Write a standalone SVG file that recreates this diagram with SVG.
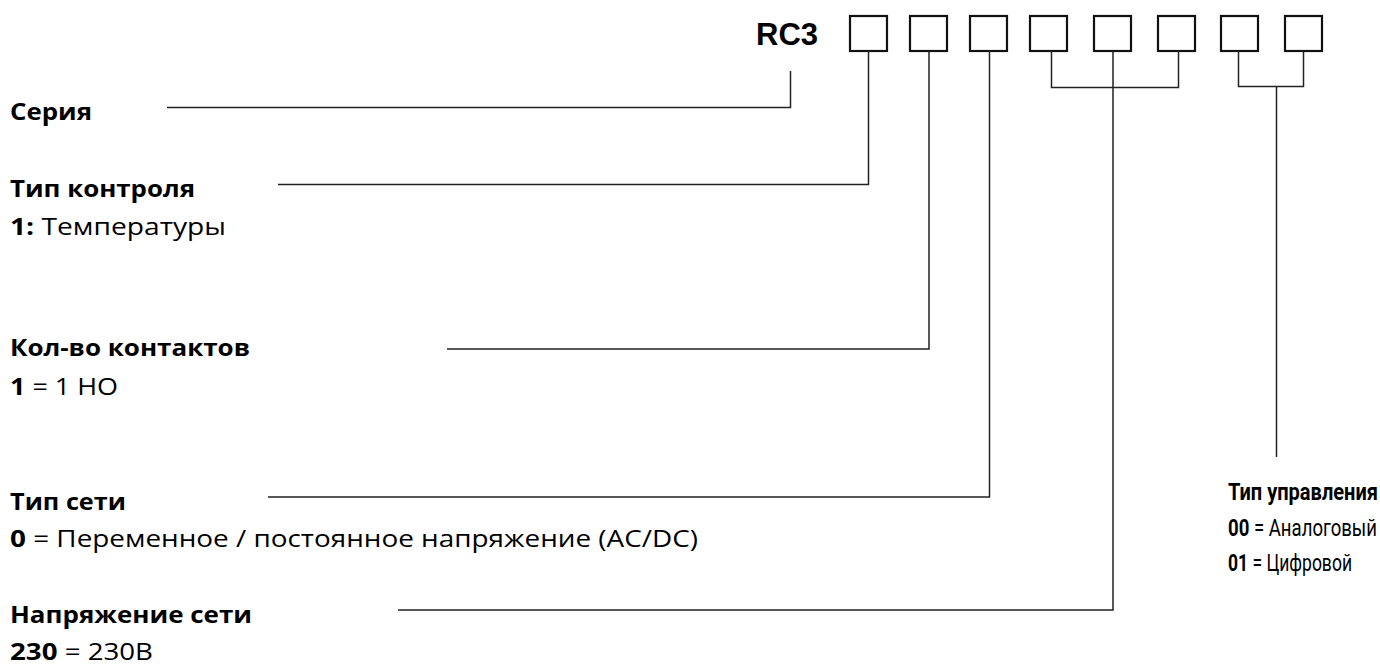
<svg xmlns="http://www.w3.org/2000/svg" width="1380" height="666" viewBox="0 0 1380 666">
<style>
.bg{fill:#ffffff}
.box{fill:#ffffff;stroke:#111111;stroke-width:2.2}
.ln{fill:none;stroke:#222222;stroke-width:1.5}
.t{font-family:"Open Sans","Noto Sans","DejaVu Sans",sans-serif;font-size:24px;fill:#000000}
.r{font-family:Roboto,"Open Sans","DejaVu Sans",sans-serif;font-size:23px;fill:#000000}
.b{font-weight:bold}
.rc{font-family:"Liberation Sans",Arial,sans-serif;font-size:31px;font-weight:bold;fill:#000000}
</style>
<rect class="bg" x="0" y="0" width="1380" height="666"/>
<g id="code">
<text class="rc" x="756" y="45">RC3</text>
</g>
<g id="boxes">
<rect id="box1" class="box" x="850" y="16" width="37" height="35"/>
<rect id="box2" class="box" x="910" y="16" width="37" height="35"/>
<rect id="box3" class="box" x="970" y="16" width="37" height="35"/>
<rect id="box4" class="box" x="1030" y="16" width="37" height="35"/>
<rect id="box5" class="box" x="1094" y="16" width="37" height="35"/>
<rect id="box6" class="box" x="1158" y="16" width="37" height="35"/>
<rect id="box7" class="box" x="1221" y="16" width="37" height="35"/>
<rect id="box8" class="box" x="1285" y="16" width="37" height="35"/>
</g>
<g id="connectors">
<polyline class="ln" points="167,107.5 790.5,107.5 790.5,71"/>
<polyline class="ln" points="278,184.5 868.5,184.5 868.5,51"/>
<polyline class="ln" points="447,349 929,349 929,51"/>
<polyline class="ln" points="268,497 989.5,497 989.5,51"/>
<polyline class="ln" points="398,610 1113,610 1113,51"/>
<polyline class="ln" points="1051.5,51 1051.5,87.5 1178.5,87.5 1178.5,51"/>
<polyline class="ln" points="1238.5,51 1238.5,86.5 1303.5,86.5 1303.5,51"/>
<line class="ln" x1="1276.5" y1="86.5" x2="1276.5" y2="457"/>
</g>
<g id="label-series">
<text class="t b" x="10" y="120" textLength="82" lengthAdjust="spacingAndGlyphs">Серия</text>
</g>
<g id="label-control">
<text class="t b" x="10" y="197" textLength="185" lengthAdjust="spacingAndGlyphs">Тип контроля</text>
<text class="t" x="10" y="235" textLength="216" lengthAdjust="spacingAndGlyphs"><tspan class="b">1:</tspan> Температуры</text>
</g>
<g id="label-contacts">
<text class="t b" x="10" y="356" textLength="240" lengthAdjust="spacingAndGlyphs">Кол-во контактов</text>
<text class="t" x="10" y="395" textLength="108" lengthAdjust="spacingAndGlyphs"><tspan class="b">1</tspan> = 1 НО</text>
</g>
<g id="label-network">
<text class="t b" x="10" y="510" textLength="116" lengthAdjust="spacingAndGlyphs">Тип сети</text>
<text class="t" x="10" y="547" textLength="688" lengthAdjust="spacingAndGlyphs"><tspan class="b">0</tspan> = Переменное / постоянное напряжение (AC/DC)</text>
</g>
<g id="label-voltage">
<text class="t b" x="10" y="623" textLength="242" lengthAdjust="spacingAndGlyphs">Напряжение сети</text>
<text class="t" x="10" y="660" textLength="143" lengthAdjust="spacingAndGlyphs"><tspan class="b">230</tspan> = 230В</text>
</g>
<g id="label-mode">
<text class="r b" x="1228" y="500" textLength="150" lengthAdjust="spacingAndGlyphs">Тип управления</text>
<text class="r" x="1228" y="536" textLength="149" lengthAdjust="spacingAndGlyphs"><tspan class="b">00</tspan> = Аналоговый</text>
<text class="r" x="1228" y="571" textLength="124" lengthAdjust="spacingAndGlyphs"><tspan class="b">01</tspan> = Цифровой</text>
</g>
</svg>
